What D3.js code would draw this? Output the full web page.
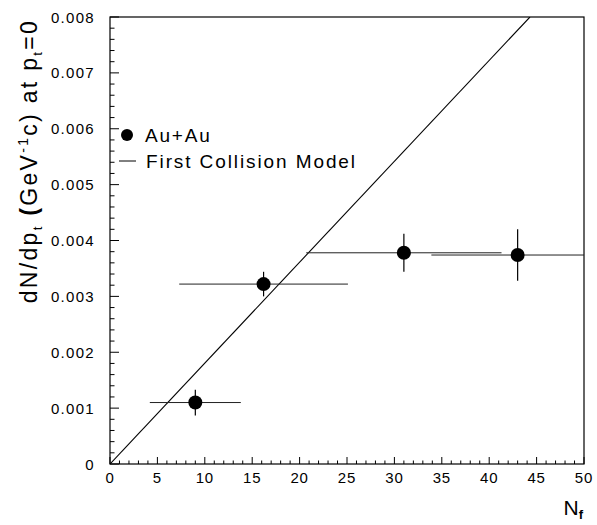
<!DOCTYPE html>
<html><head><meta charset="utf-8">
<script src="https://cdn.jsdelivr.net/npm/d3@7"></script>
<style>
html,body{margin:0;padding:0;background:#fff;}
svg{display:block;font-family:"Liberation Sans",Arial,Helvetica,sans-serif;}
</style></head>
<body>
<svg id="chart" width="597" height="525"></svg>
<script>
// ---- data ----
const nf      = [9.0, 16.2, 31.0, 43.0];
const dndpt   = [0.00110, 0.00322, 0.00378, 0.00374];
const yErr    = [0.00023, 0.00022, 0.00034, 0.00046];
const xLo     = [4.2, 7.3, 20.7, 33.9];
const xHi     = [13.8, 25.1, 41.3, 52.0];
const modelN  = [0, 44.3];
const modelY  = [0, 0.008];
const xTicks  = [0,5,10,15,20,25,30,35,40,45,50];
const yTicks  = [0,0.001,0.002,0.003,0.004,0.005,0.006,0.007,0.008];
const yTickLabels = ["0","0.001","0.002","0.003","0.004","0.005","0.006","0.007","0.008"];
const legendLabels = ["Au+Au","First Collision Model"];

const svg = d3.select("#chart");
const L=110, R=584, T=17, B=464;
const x = d3.scaleLinear().domain([0,50]).range([L,R]);
const y = d3.scaleLinear().domain([0,0.008]).range([B,T]);

svg.append("clipPath").attr("id","clp").append("rect")
  .attr("x",L).attr("y",T).attr("width",R-L).attr("height",B-T);

// frame
svg.append("rect").attr("x",L).attr("y",T).attr("width",R-L).attr("height",B-T)
  .attr("fill","none").attr("stroke","#000").attr("stroke-width",1.2);

// x ticks (inward)
const xMinor = d3.range(0,51,1);
svg.append("g").selectAll("line").data(xMinor).join("line")
  .attr("x1",d=>x(d)).attr("x2",d=>x(d))
  .attr("y1",B).attr("y2",d=>B-(d%5===0?7:3.5))
  .attr("stroke","#000").attr("stroke-width",1);
svg.append("g").selectAll("text").data(xTicks).join("text")
  .attr("x",d=>x(d)).attr("y",B+19)
  .attr("text-anchor","middle").attr("font-size",15).attr("letter-spacing",0.8)
  .text(d=>d);

// y ticks (inward)
const yMinor = d3.range(0,41).map(i=>i*0.0002);
svg.append("g").selectAll("line").data(yMinor).join("line")
  .attr("x1",L).attr("x2",(d,i)=>L+(i%5===0?9:4.5))
  .attr("y1",d=>y(d)).attr("y2",d=>y(d))
  .attr("stroke","#000").attr("stroke-width",1);
svg.append("g").selectAll("text").data(yTicks).join("text")
  .attr("x",95).attr("y",d=>y(d)+5.5)
  .attr("text-anchor","end").attr("font-size",15).attr("letter-spacing",1.3)
  .text((d,i)=>yTickLabels[i]);

// axis titles
const xt = svg.append("text").attr("x",583).attr("y",515).attr("text-anchor","end")
  .attr("font-size",21);
xt.append("tspan").text("N");
xt.append("tspan").attr("dy",4).attr("font-size",13).attr("font-weight","bold").text("f");

const yt = svg.append("text").attr("transform","translate(37,19) rotate(-90)")
  .attr("text-anchor","end").attr("font-size",23).attr("letter-spacing",2.3);
yt.append("tspan").text("dN/dp");
yt.append("tspan").attr("dy",5).attr("font-size",13).text("t");
yt.append("tspan").attr("dy",-5).text(" ");
yt.append("tspan").attr("font-weight","bold").text("(");
yt.append("tspan").text("GeV");
yt.append("tspan").attr("dy",-9).attr("font-size",14).text("-1");
yt.append("tspan").attr("dy",9).text("c) at p");
yt.append("tspan").attr("dy",5).attr("font-size",13).text("t");
yt.append("tspan").attr("dy",-5).text("=0");

// model line
const g = svg.append("g").attr("clip-path","url(#clp)");
g.append("path").datum(modelN.map((d,i)=>[d,modelY[i]]))
  .attr("d",d3.line().x(d=>x(d[0])).y(d=>y(d[1])))
  .attr("fill","none").attr("stroke","#000").attr("stroke-width",1.1);

// error bars
const pts = nf.map((d,i)=>({n:d,v:dndpt[i],e:yErr[i],lo:xLo[i],hi:xHi[i]}));
g.append("g").selectAll("line").data(pts).join("line")
  .attr("x1",d=>x(d.lo)).attr("x2",d=>x(d.hi))
  .attr("y1",d=>y(d.v)).attr("y2",d=>y(d.v))
  .attr("stroke","#222").attr("stroke-width",1);
g.append("g").selectAll("line").data(pts).join("line")
  .attr("x1",d=>x(d.n)).attr("x2",d=>x(d.n))
  .attr("y1",d=>y(d.v-d.e)).attr("y2",d=>y(d.v+d.e))
  .attr("stroke","#000").attr("stroke-width",1.2);
g.append("g").selectAll("circle").data(pts).join("circle")
  .attr("cx",d=>x(d.n)).attr("cy",d=>y(d.v)).attr("r",7).attr("fill","#000");

// legend
svg.append("circle").attr("cx",127).attr("cy",135).attr("r",6).attr("fill","#000");
svg.append("text").attr("x",145).attr("y",142).attr("font-size",19).attr("letter-spacing",1.8).text(legendLabels[0]);
svg.append("line").attr("x1",119).attr("x2",136).attr("y1",161).attr("y2",161)
  .attr("stroke","#000").attr("stroke-width",1);
svg.append("text").attr("x",146).attr("y",168).attr("font-size",19).attr("letter-spacing",1.9).text(legendLabels[1]);
</script>
</body></html>
